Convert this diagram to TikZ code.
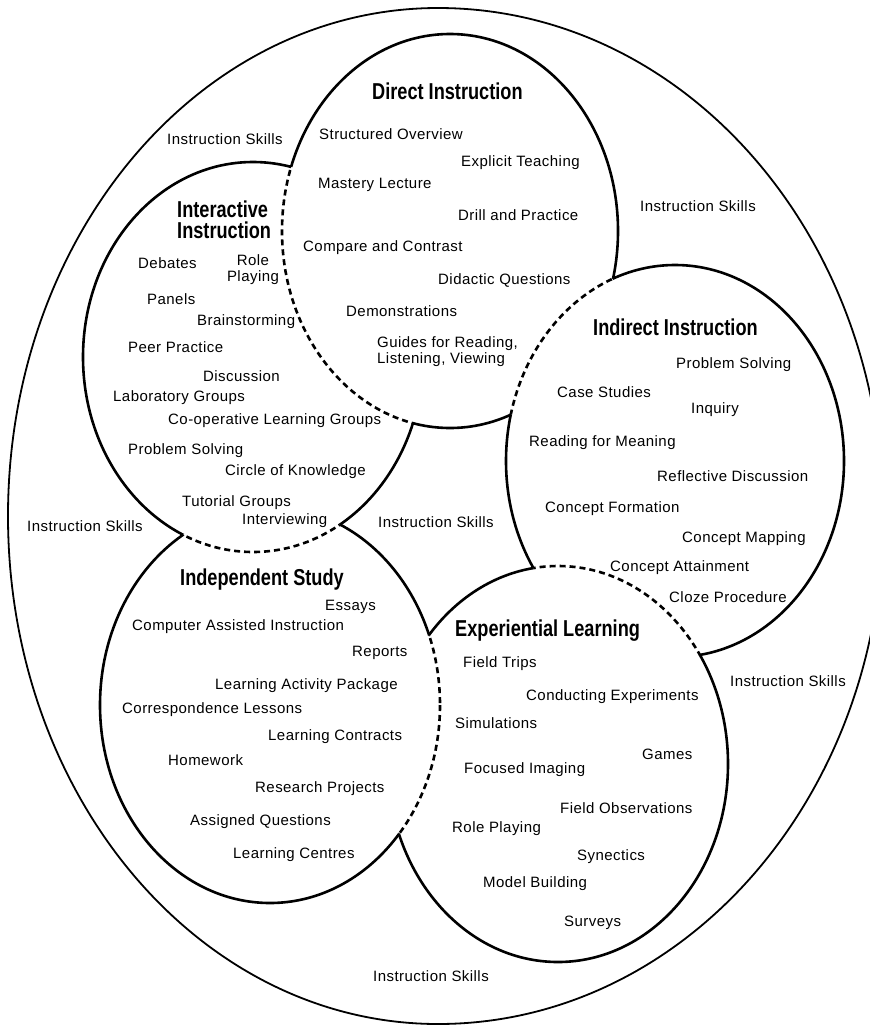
\documentclass[tikz,border=0pt]{standalone}
\usepackage{fontspec}
\setmainfont{Liberation Sans}[LetterSpace=3]
\newfontfamily\titlefont{Liberation Sans}[FakeStretch=0.79]
\newcommand{\DirectPath}{(450,231) ellipse [x radius=168, y radius=197]}
\newcommand{\InteractivePath}{(253,357) ellipse [x radius=170, y radius=195]}
\newcommand{\IndirectPath}{(675,461) ellipse [x radius=169, y radius=196]}
\newcommand{\IndependentPath}{(270,705) ellipse [x radius=170, y radius=198]}
\newcommand{\ExperientialPath}{(558,764) ellipse [x radius=170, y radius=198]}
\newcommand{\PagePath}{(-20,-20) rectangle (890,1048)}

\begin{document}
\begin{tikzpicture}[
    x=1pt, y=-1pt,
    ring/.style={line width=2.6pt},
    hidden/.style={line width=2.6pt, dash pattern=on 6pt off 4pt},
    outer/.style={line width=1.8pt},
    title/.style={font=\titlefont\bfseries\fontsize{23}{21}\selectfont, inner sep=0pt, align=left},
    item/.style={font=\fontsize{15}{17}\selectfont, inner sep=0pt, anchor=west, text height=11pt, text depth=0pt},
    itemtwo/.style={font=\fontsize{15}{16}\selectfont, inner sep=0pt}
]
    \useasboundingbox (0,0) rectangle (870,1028);

    % Outer boundary (right half runs past the page edge)
    \draw[outer] (438,8) .. controls (684,8) and (883,235) .. (883,516)
        .. controls (883,797) and (684,1024) .. (438,1024)
        .. controls (200,1024) and (8,797) .. (8,516)
        .. controls (8,235) and (200,8) .. (438,8) -- cycle;

    % Solid arcs, kept outside the neighbouring circles
    \begin{scope}[even odd rule]
        \clip \PagePath \InteractivePath \IndirectPath;
        \draw[ring] \DirectPath;
    \end{scope}
    \begin{scope}[even odd rule]
        \clip \PagePath \DirectPath \IndependentPath;
        \draw[ring] \InteractivePath;
    \end{scope}
    \begin{scope}[even odd rule]
        \clip \PagePath \DirectPath \ExperientialPath;
        \draw[ring] \IndirectPath;
    \end{scope}
    \begin{scope}[even odd rule]
        \clip \PagePath \InteractivePath \ExperientialPath;
        \draw[ring] \IndependentPath;
    \end{scope}
    \begin{scope}[even odd rule]
        \clip \PagePath \IndirectPath \IndependentPath;
        \draw[ring] \ExperientialPath;
    \end{scope}

    % Dashed arcs in the overlaps
    \begin{scope}
        \clip \InteractivePath;
        \draw[hidden] \DirectPath;
    \end{scope}
    \begin{scope}
        \clip \DirectPath;
        \draw[hidden] \IndirectPath;
    \end{scope}
    \begin{scope}
        \clip \IndirectPath;
        \draw[hidden] \ExperientialPath;
    \end{scope}
    \begin{scope}
        \clip \ExperientialPath;
        \draw[hidden] \IndependentPath;
    \end{scope}
    \begin{scope}
        \clip \IndependentPath;
        \draw[hidden] \InteractivePath;
    \end{scope}

    % Direct Instruction
    \node[title, anchor=base west] (direct) at (372,99) {Direct Instruction};
    \node[item] (overview) at (319,134) {Structured Overview};
    \node[item] (explicit) at (461,161) {Explicit Teaching};
    \node[item] (mastery) at (318,183) {Mastery Lecture};
    \node[item] (drill) at (458,215) {Drill and Practice};
    \node[item] (compare) at (303,246) {Compare and Contrast};
    \node[item] (didactic) at (438,279) {Didactic Questions};
    \node[item] (demos) at (346,311) {Demonstrations};
    \node[itemtwo, align=left, anchor=north west] (guides) at (377,336) {Guides for Reading,\\Listening, Viewing};

    % Interactive Instruction
    \node[title, anchor=north west] (interactive) at (177,201) {Interactive\\Instruction};
    \node[item] (debates) at (138,263) {Debates};
    \node[itemtwo, align=center, anchor=north] (roleplayA) at (253,254) {Role\\Playing};
    \node[item] (panels) at (147,299) {Panels};
    \node[item] (brainstorm) at (197,320) {Brainstorming};
    \node[item] (peer) at (128,347) {Peer Practice};
    \node[item] (discussion) at (203,376) {Discussion};
    \node[item] (labgroups) at (113,396) {Laboratory Groups};
    \node[item] (coop) at (168,419) {Co-operative Learning Groups};
    \node[item] (problemA) at (128,449) {Problem Solving};
    \node[item] (circle) at (225,470) {Circle of Knowledge};
    \node[item] (tutorial) at (182,501) {Tutorial Groups};
    \node[item] (interview) at (242,519) {Interviewing};

    % Indirect Instruction
    \node[title, anchor=base west] (indirect) at (593,335) {Indirect Instruction};
    \node[item] (problemB) at (676,363) {Problem Solving};
    \node[item] (cases) at (557,392) {Case Studies};
    \node[item] (inquiry) at (691,408) {Inquiry};
    \node[item] (reading) at (529,441) {Reading for Meaning};
    \node[item] (reflective) at (657,476) {Reflective Discussion};
    \node[item] (formation) at (545,507) {Concept Formation};
    \node[item] (mapping) at (682,537) {Concept Mapping};
    \node[item] (attainment) at (610,566) {Concept Attainment};
    \node[item] (cloze) at (669,597) {Cloze Procedure};

    % Independent Study
    \node[title, anchor=base west] (independent) at (180,585) {Independent Study};
    \node[item] (essays) at (325,605) {Essays};
    \node[item] (computer) at (132,625) {Computer Assisted Instruction};
    \node[item] (reports) at (352,651) {Reports};
    \node[item] (package) at (215,684) {Learning Activity Package};
    \node[item] (correspond) at (122,708) {Correspondence Lessons};
    \node[item] (contracts) at (268,735) {Learning Contracts};
    \node[item] (homework) at (168,760) {Homework};
    \node[item] (research) at (255,787) {Research Projects};
    \node[item] (assigned) at (190,820) {Assigned Questions};
    \node[item] (centres) at (233,853) {Learning Centres};

    % Experiential Learning
    \node[title, anchor=base west] (experiential) at (455,636) {Experiential Learning};
    \node[item] (fieldtrips) at (463,662) {Field Trips};
    \node[item] (experiments) at (526,695) {Conducting Experiments};
    \node[item] (simulations) at (455,723) {Simulations};
    \node[item] (games) at (642,754) {Games};
    \node[item] (imaging) at (464,768) {Focused Imaging};
    \node[item] (observations) at (560,808) {Field Observations};
    \node[item] (roleplayB) at (452,827) {Role Playing};
    \node[item] (synectics) at (577,855) {Synectics};
    \node[item] (models) at (483,882) {Model Building};
    \node[item] (surveys) at (564,921) {Surveys};

    % Instruction Skills between the circles
    \node[item] (skillsA) at (167,139) {Instruction Skills};
    \node[item] (skillsB) at (640,206) {Instruction Skills};
    \node[item] (skillsC) at (27,526) {Instruction Skills};
    \node[item] (skillsD) at (378,522) {Instruction Skills};
    \node[item] (skillsE) at (730,681) {Instruction Skills};
    \node[item] (skillsF) at (373,976) {Instruction Skills};
\end{tikzpicture}
\end{document}
